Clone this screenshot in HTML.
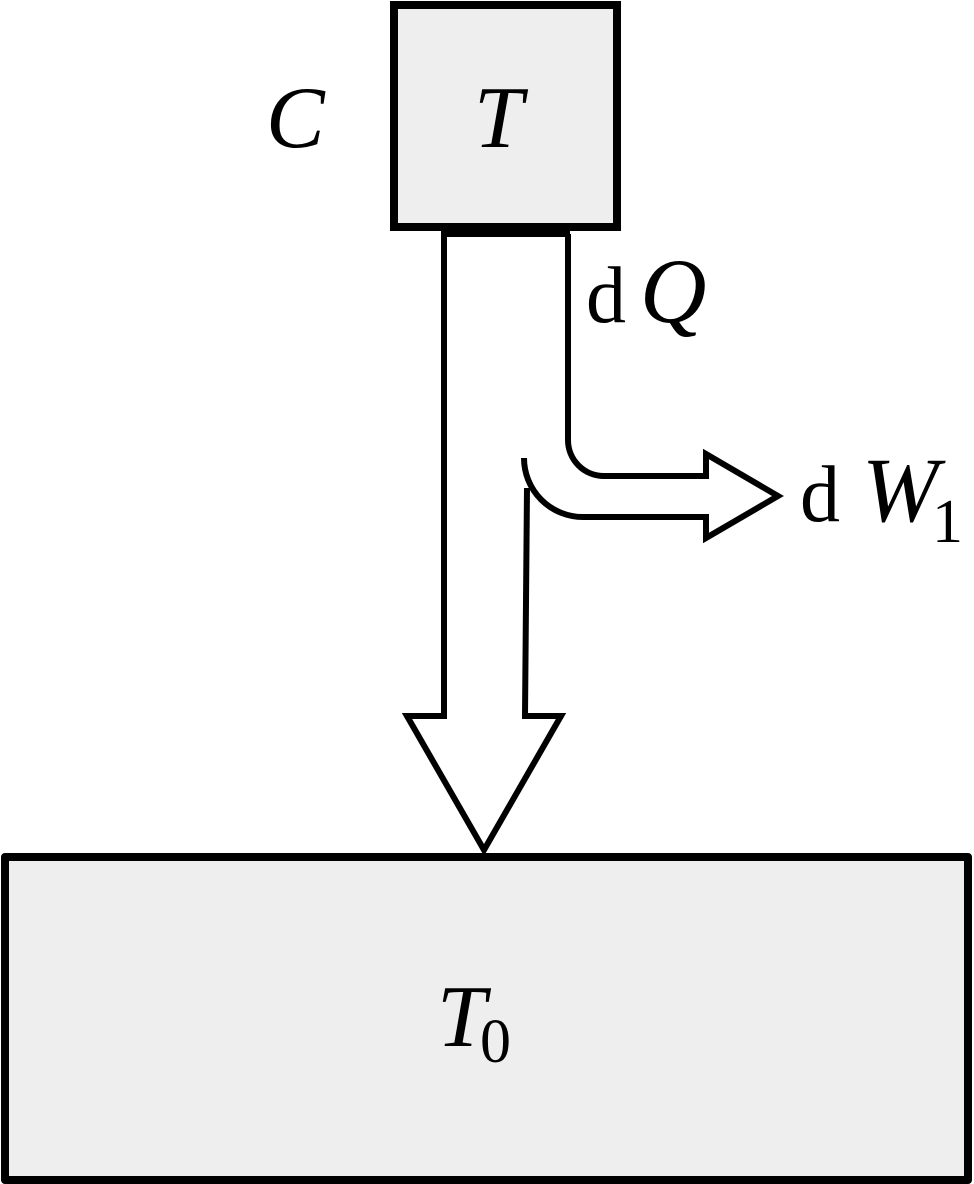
<!DOCTYPE html>
<html><head><meta charset="utf-8"><style>
html,body{margin:0;padding:0;background:#fff;}
svg{display:block}
text{font-family:"Liberation Serif",serif;fill:#000}
</style></head><body>
<svg width="974" height="1184" viewBox="0 0 974 1184" xmlns="http://www.w3.org/2000/svg">
<rect x="394" y="5" width="223" height="222" fill="#eeeeee" stroke="#000" stroke-width="8"/>
<rect x="441" y="227" width="129" height="10" fill="#000"/>
<g fill="none" stroke="#000" stroke-width="6" stroke-linejoin="miter">
<path d="M568,234 L568,440 A36,36 0 0 0 604,476 L706,476 L706,454 L778,496 L706,538 L706,517 L583,517 A59,59 0 0 1 524,458"/>
<path d="M527,488 L525,716 L561,716 L484,850 L407,716 L444,716 L444,234"/>
</g>
<rect x="5" y="857" width="963" height="323" fill="#eeeeee" stroke="#000" stroke-width="8" stroke-linejoin="round"/>
<text x="266" y="147" font-size="88" font-style="italic">C</text>
<text x="474" y="147" font-size="88" font-style="italic">T</text>
<text x="586" y="322" font-size="80">d</text>
<text x="640" y="322" font-size="92" font-style="italic">Q</text>
<text x="800" y="521" font-size="80">d</text>
<text x="862" y="521" font-size="92" font-style="italic">W</text>
<text x="932" y="542" font-size="62">1</text>
<text x="437" y="1046" font-size="88" font-style="italic">T</text>
<text x="480" y="1062" font-size="62">0</text>
</svg>
</body></html>
